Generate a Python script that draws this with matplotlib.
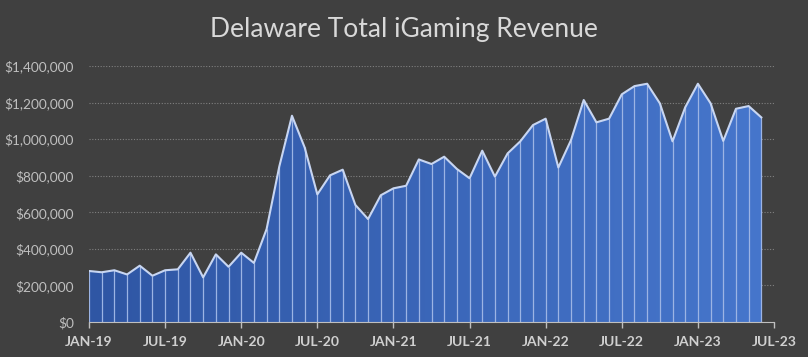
import numpy as np
import matplotlib.pyplot as plt
from matplotlib.ticker import FuncFormatter
from matplotlib.colors import LinearSegmentedColormap

# Monthly revenue, Jan 2019 - Jun 2023 (USD)
revenue = [
    279000, 272000, 283000, 260000, 308000, 253000, 283000, 288000, 379000, 244000, 370000, 302000,
    379000, 323000, 508000, 850000, 1128000, 955000, 698000, 802000, 833000, 640000, 563000, 693000,
    731000, 745000, 889000, 864000, 904000, 837000, 786000, 937000, 795000, 922000, 988000, 1077000,
    1112000, 845000, 995000, 1214000, 1092000, 1112000, 1245000, 1290000, 1303000, 1196000, 988000, 1174000,
    1303000, 1196000, 990000, 1166000, 1181000, 1119000,
]
tick_labels = ['JAN-19', 'JUL-19', 'JAN-20', 'JUL-20', 'JAN-21', 'JUL-21',
               'JAN-22', 'JUL-22', 'JAN-23', 'JUL-23']
title = 'Delaware Total iGaming Revenue'

bg = '#404040'
text_col = '#bfbfbf'
font = 'Lato'

x = np.arange(len(revenue))
y = np.array(revenue)

fig = plt.figure(figsize=(8.08, 3.57), dpi=100, facecolor=bg)
ax = fig.add_axes([89 / 808, 1 - 322 / 357, (774 - 89) / 808, (322 - 66) / 357])
ax.set_facecolor(bg)

# gradient area fill
poly = ax.fill_between(x, y, 0, color='none', lw=0)
grad = np.linspace(0, 1, 256).reshape(1, -1)
cmap = LinearSegmentedColormap.from_list('blues', ['#2f56a4', '#4676cc'])
img = ax.imshow(grad, cmap=cmap, aspect='auto', extent=[0, len(revenue) - 1, 0, 1400000],
                origin='lower', zorder=2)
img.set_clip_path(poly.get_paths()[0], transform=ax.transData)

# separators at each month
ax.vlines(x, 0, y, color='#9cb4e4', lw=0.9, zorder=3)
ax.plot(x, y, color='#c8d6f2', lw=1.5, zorder=4)

ax.set_xlim(0, 54)
ax.set_ylim(0, 1400000)
ax.set_yticks(np.arange(0, 1400001, 200000))
ax.yaxis.set_major_formatter(FuncFormatter(lambda v, p: '${:,.0f}'.format(v)))
ax.set_xticks(np.arange(0, 55, 6))
ax.set_xticklabels(tick_labels, fontweight='bold')

ax.grid(axis='y', linestyle=(0, (1, 1.5)), color='#808080', lw=0.8, zorder=1)
for s in ['top', 'right', 'left']:
    ax.spines[s].set_visible(False)
ax.spines['bottom'].set_color('#bfbfbf')
ax.spines['bottom'].set_zorder(5)
ax.tick_params(axis='x', colors='#bfbfbf', length=4, width=1, labelsize=10,
               labelcolor='#d0d0d0', pad=6)
ax.tick_params(axis='y', length=0, labelsize=9.8, labelcolor=text_col, pad=11)
for lab in ax.get_xticklabels() + ax.get_yticklabels():
    lab.set_family(font)

fig.text(0.5, 1 - 30 / 357, title, ha='center', va='center', fontsize=19,
         color='#d9d9d9', family=font)

fig.savefig('out.png', dpi=100, facecolor=bg)
